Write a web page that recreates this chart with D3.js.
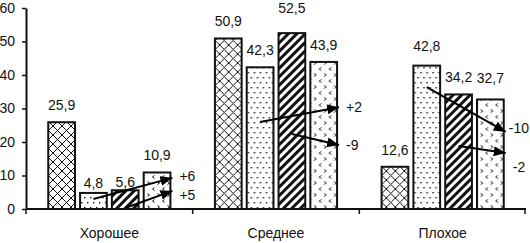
<!DOCTYPE html>
<html>
<head>
<meta charset="utf-8">
<script src="https://cdn.jsdelivr.net/npm/d3@7"></script>
<style>
  body { margin: 0; background: #fff; }
  text { font-family: "Liberation Sans", Arial, sans-serif; font-size: 14px; fill: #111; }
</style>
</head>
<body>
<svg id="chart" width="530" height="243"></svg>
<script>
// categories and series
const categories = ["Хорошее", "Среднее", "Плохое"];
const seriesA = [25.9, 50.9, 12.6];   // crosshatch
const seriesB = [4.8, 42.3, 42.8];    // dots
const seriesC = [5.6, 52.5, 34.2];    // stripes
const seriesD = [10.9, 43.9, 32.7];   // chevrons
const yTicks = [0, 10, 20, 30, 40, 50, 60];

// change arrows: from series (1 = B, 2 = C) towards series D
const arrowGroup = [0, 0, 1, 1, 2, 2];
const arrowFrom = [1, 2, 1, 2, 1, 2];
const arrowStart = [3.0, 0.3, 26, 22.4, 36.4, 18.8];
const arrowEnd = [9.3, 5.4, 30.4, 19.1, 23, 16.7];
const arrowLabel = ["+6", "+5", "+2", "-9", "-10", "-2"];
const arrowLabelAt = [9.9, 4.2, 30.4, 19.1, 24.2, 12.5];

const fmt = v => String(v).replace(".", ",");

const svg = d3.select("#chart");
const series = [seriesA, seriesB, seriesC, seriesD];

const y = d3.scaleLinear().domain([0, 60]).range([209, 8]);
const x0 = d3.scaleBand().domain(categories).range([26, 526]);
const x1 = d3.scaleBand().domain([0, 1, 2, 3]).range([0, x0.bandwidth()])
  .paddingInner(0.16).paddingOuter(0.7);

// fill patterns
const defs = svg.append("defs");
const pCross = defs.append("pattern").attr("id", "p0")
  .attr("patternUnits", "userSpaceOnUse").attr("width", 9).attr("height", 9);
pCross.append("rect").attr("width", 9).attr("height", 9).attr("fill", "#fff");
pCross.append("path").attr("d", "M0,0L9,9M9,0L0,9M-1,8L1,10M8,-1L10,1M-1,1L1,-1M8,10L10,8")
  .attr("stroke", "#111").attr("stroke-width", 1);

const pDots = defs.append("pattern").attr("id", "p1")
  .attr("patternUnits", "userSpaceOnUse").attr("width", 6).attr("height", 10);
pDots.append("rect").attr("width", 6).attr("height", 10).attr("fill", "#fff");
pDots.append("rect").attr("x", 1).attr("y", 2).attr("width", 1.4).attr("height", 1.4).attr("fill", "#111");
pDots.append("rect").attr("x", 4).attr("y", 7).attr("width", 1.4).attr("height", 1.4).attr("fill", "#111");

const pStripe = defs.append("pattern").attr("id", "p2")
  .attr("patternUnits", "userSpaceOnUse").attr("width", 6).attr("height", 6)
  .attr("patternTransform", "rotate(45)");
pStripe.append("rect").attr("width", 6).attr("height", 6).attr("fill", "#fff");
pStripe.append("rect").attr("width", 3).attr("height", 6).attr("fill", "#111");

const pChev = defs.append("pattern").attr("id", "p3")
  .attr("patternUnits", "userSpaceOnUse").attr("width", 10).attr("height", 12);
pChev.append("rect").attr("width", 10).attr("height", 12).attr("fill", "#fff");
pChev.append("path").attr("d", "M1.5,1.5L3.5,3L1.5,4.5M8.5,7.5L6.5,9L8.5,10.5")
  .attr("fill", "none").attr("stroke", "#111").attr("stroke-width", 1);

defs.append("marker").attr("id", "arrow")
  .attr("markerUnits", "userSpaceOnUse")
  .attr("viewBox", "0 0 12 10").attr("refX", 12).attr("refY", 5)
  .attr("markerWidth", 12).attr("markerHeight", 10).attr("orient", "auto")
  .append("path").attr("d", "M0,0L12,5L0,10Z").attr("fill", "#000");

// bars
const groups = svg.append("g").selectAll("g")
  .data(categories).join("g")
  .attr("transform", d => `translate(${x0(d)},0)`);

groups.selectAll("rect")
  .data((c, gi) => series.map((s, si) => ({ si, gi, v: s[gi] })))
  .join("rect")
  .attr("x", d => x1(d.si))
  .attr("y", d => y(d.v))
  .attr("width", x1.bandwidth())
  .attr("height", d => y(0) - y(d.v))
  .attr("fill", d => `url(#p${d.si})`)
  .attr("stroke", "#111")
  .attr("stroke-width", 2);

// value labels (a few sit a little off the default spot, as in the source)
const lift = { "0-1": 7, "0-2": 9, "1-2": -8, "2-3": -4, "2-1": -3 };
groups.selectAll("text.val")
  .data((c, gi) => series.map((s, si) => ({ si, gi, v: s[gi] })))
  .join("text")
  .attr("class", "val")
  .attr("x", d => x1(d.si) + x1.bandwidth() / 2)
  .attr("y", d => y(d.v) - 12 + (lift[d.gi + "-" + d.si] || 0))
  .attr("text-anchor", "middle")
  .text(d => fmt(d.v));

// arrows
const arrows = arrowLabel.map((t, i) => ({
  g: categories[arrowGroup[i]], from: arrowFrom[i],
  a: arrowStart[i], b: arrowEnd[i], t, at: arrowLabelAt[i]
}));
const ag = svg.append("g");
ag.selectAll("line").data(arrows).join("line")
  .attr("x1", d => x0(d.g) + x1(d.from) + x1.bandwidth() / 2)
  .attr("y1", d => y(d.a))
  .attr("x2", d => x0(d.g) + x1(3) + x1.bandwidth() + 2)
  .attr("y2", d => y(d.b))
  .attr("stroke", "#000").attr("stroke-width", 2)
  .attr("marker-end", "url(#arrow)");
ag.selectAll("text").data(arrows).join("text")
  .attr("x", d => x0(d.g) + x1(3) + x1.bandwidth() + 9)
  .attr("y", d => y(d.at))
  .attr("dy", "0.35em")
  .text(d => d.t)
  .attr("x", function (d) {
    const want = x0(d.g) + x1(3) + x1.bandwidth() + 9;
    return Math.min(want, 529 - this.getComputedTextLength());
  });

// y axis
svg.append("g")
  .attr("transform", "translate(26,0)")
  .call(d3.axisLeft(y).tickValues(yTicks).tickSize(4).tickSizeOuter(0).tickPadding(7))
  .call(g => g.select(".domain").attr("stroke", "#111").attr("stroke-width", 2))
  .call(g => g.selectAll(".tick line").attr("stroke", "#111").attr("stroke-width", 1.5))
  .call(g => g.selectAll(".tick text").attr("font-size", 13).attr("font-family", null));

// x axis with ticks between the groups
const xa = svg.append("g");
xa.append("line").attr("x1", 26).attr("x2", 526).attr("y1", y(0)).attr("y2", y(0))
  .attr("stroke", "#111").attr("stroke-width", 2);
xa.selectAll("line.tk").data(categories.concat([null])).join("line")
  .attr("class", "tk")
  .attr("x1", d => d === null ? 525 : x0(d)).attr("x2", d => d === null ? 525 : x0(d))
  .attr("y1", y(0)).attr("y2", y(0) + 5)
  .attr("stroke", "#111").attr("stroke-width", 1.5);
xa.selectAll("text").data(categories).join("text")
  .attr("x", d => x0(d) + x0.bandwidth() / 2)
  .attr("y", 233)
  .attr("dy", "0.35em")
  .attr("text-anchor", "middle")
  .text(d => d);
</script>
</body>
</html>
